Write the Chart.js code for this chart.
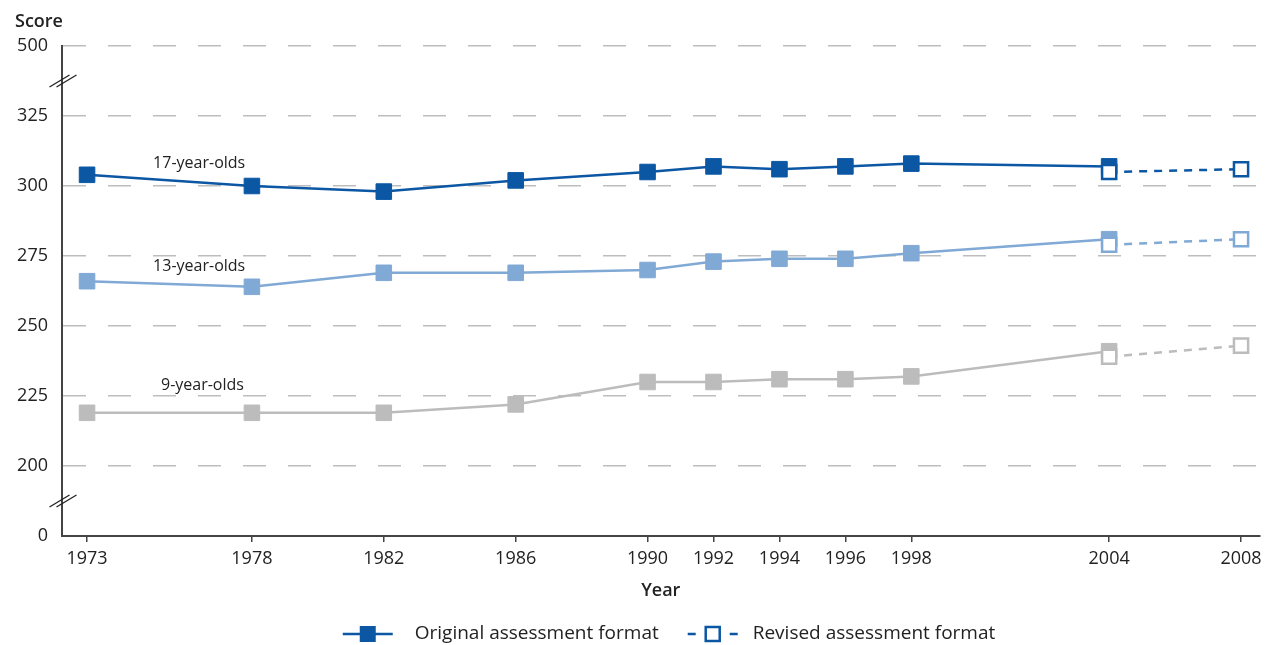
<!DOCTYPE html>
<html>
<head>
<meta charset="utf-8">
<script src="https://cdn.jsdelivr.net/npm/chart.js@4.4.1/dist/chart.umd.min.js"></script>
<style>
html,body{margin:0;padding:0;background:#fff;}
#wrap{position:relative;width:1272px;height:645px;}
</style>
</head>
<body>
<div id="wrap"><canvas id="chart"></canvas></div>
<script>
// ================= DATOS =================
const years = [1973, 1978, 1982, 1986, 1990, 1992, 1994, 1996, 1998, 2004];
const revisedYears = [2004, 2008];

const age17 = [304, 300, 298, 302, 305, 307, 306, 307, 308, 307];
const age13 = [266, 264, 269, 269, 270, 273, 274, 274, 276, 281];
const age9  = [219, 219, 219, 222, 230, 230, 231, 231, 232, 241];

const age17Revised = [305, 306];
const age13Revised = [279, 281];
const age9Revised  = [239, 243];

const xTicks = [1973, 1978, 1982, 1986, 1990, 1992, 1994, 1996, 1998, 2004, 2008];
// eje Y partido: 175 -> "0" y 350 -> "500"
const yTickValues = [175, 200, 225, 250, 275, 300, 325, 350];
const yTickLabels = ["0", "200", "225", "250", "275", "300", "325", "500"];

const seriesNames = ["17-year-olds", "13-year-olds", "9-year-olds"];
const legendNames = ["Original assessment format", "Revised assessment format"];

// ================= ESTILO =================
const FONT = "'Open Sans', 'DejaVu Sans', sans-serif";
const TEXT = "#222";
const AXIS = "#444";
const GRID = "#bdbdbd";
const colors = ["#0b57a4", "#80a9d5", "#bcbcbc"];

// anclas de las etiquetas de serie (en unidades de datos)
const labelAnchors = [
  {x: 1976.4, y: 308.2},
  {x: 1976.4, y: 271.1},
  {x: 1976.5, y: 228.9}
];

function pts(xs, ys){ return xs.map((x,i)=>({x, y: ys[i]})); }

function original(data, color){
  return {
    data, order: 1,
    borderColor: color, borderWidth: 2.5,
    pointStyle: "rect", pointRadius: 11, pointHoverRadius: 11,
    pointBackgroundColor: color, pointBorderColor: color, pointBorderWidth: 1
  };
}
function revised(data, color){
  return {
    data, order: 0,
    borderColor: color, borderWidth: 2.5, borderDash: [8, 7],
    pointStyle: "rect", pointRadius: 10, pointHoverRadius: 10,
    pointBackgroundColor: "#fff", pointBorderColor: color, pointBorderWidth: 2.5
  };
}

const datasets = [
  original(pts(years, age17), colors[0]),
  original(pts(years, age13), colors[1]),
  original(pts(years, age9), colors[2]),
  revised(pts(revisedYears, age17Revised), colors[0]),
  revised(pts(revisedYears, age13Revised), colors[1]),
  revised(pts(revisedYears, age9Revised), colors[2])
];

// ================= DECORACION =================
const decor = {
  id: "decor",
  afterDraw(chart){
    const {ctx, chartArea, scales} = chart;
    const x = scales.x, y = scales.y;
    ctx.save();

    // titulo eje Y
    ctx.fillStyle = TEXT;
    ctx.font = "600 18px " + FONT;
    ctx.textAlign = "left";
    ctx.textBaseline = "middle";
    ctx.fillText("Score", 15, 22);

    // marcas de corte
    ctx.strokeStyle = "#222";
    ctx.lineWidth = 1.3;
    [337.5, 187.5].forEach(v => {
      const py = y.getPixelForValue(v);
      const px = chartArea.left + 1;
      [-3.5, 3.5].forEach(d => {
        ctx.beginPath();
        ctx.moveTo(px - 10 + d, py + 6);
        ctx.lineTo(px + 10 + d, py - 6);
        ctx.stroke();
      });
    });

    // etiquetas de series
    ctx.font = "16px " + FONT;
    ctx.textAlign = "center";
    seriesNames.forEach((n, i) => {
      ctx.fillText(n, x.getPixelForValue(labelAnchors[i].x), y.getPixelForValue(labelAnchors[i].y));
    });

    // leyenda
    ctx.font = "19px " + FONT;
    const iconW = 50, itemGap = 29;
    const w0 = ctx.measureText(legendNames[0]).width;
    const w1 = ctx.measureText(legendNames[1]).width;
    const total = iconW + 22 + w0 + itemGap + iconW + 15 + w1;
    let lx = 669 - total / 2;
    const ly = 634;
    const c = colors[0];
    ctx.textAlign = "left";

    // original
    ctx.strokeStyle = c; ctx.lineWidth = 2.5;
    ctx.beginPath(); ctx.moveTo(lx, ly); ctx.lineTo(lx + iconW, ly); ctx.stroke();
    ctx.fillStyle = c;
    ctx.fillRect(lx + iconW/2 - 8, ly - 8, 16, 16);
    ctx.fillStyle = TEXT;
    ctx.fillText(legendNames[0], lx + iconW + 22, ly);
    lx += iconW + 22 + w0 + itemGap;

    // revisado
    ctx.strokeStyle = c;
    ctx.beginPath();
    ctx.moveTo(lx, ly); ctx.lineTo(lx + 8, ly);
    ctx.moveTo(lx + iconW - 8, ly); ctx.lineTo(lx + iconW, ly);
    ctx.stroke();
    ctx.fillStyle = "#fff";
    ctx.fillRect(lx + iconW/2 - 7, ly - 7, 14, 14);
    ctx.strokeRect(lx + iconW/2 - 7, ly - 7, 14, 14);
    ctx.fillStyle = TEXT;
    ctx.fillText(legendNames[1], lx + iconW + 15, ly);

    ctx.restore();
  }
};

// ================= GRAFICA =================
new Chart(document.getElementById("chart"), {
  type: "line",
  data: {datasets},
  options: {
    responsive: true,
    maintainAspectRatio: false,
    animation: false,
    layout: {padding: {top: 46, right: 0, bottom: 30, left: 0}},
    plugins: {legend: {display: false}, tooltip: {enabled: false}},
    events: [],
    scales: {
      x: {
        type: "linear",
        min: 1972.24, max: 2008.56,
        afterBuildTicks: s => { s.ticks = xTicks.map(v => ({value: v})); },
        afterFit: s => { s.height = 79; s.paddingLeft = 0; s.paddingRight = 0; },
        grid: {drawOnChartArea: false, drawTicks: true, tickLength: 6, color: AXIS, lineWidth: 1.5},
        border: {display: true, color: AXIS, width: 2},
        ticks: {color: TEXT, font: {family: FONT, size: 18}, padding: 6, maxRotation: 0, autoSkip: false,
                callback: v => String(v)},
        title: {display: true, text: "Year", color: TEXT, font: {family: FONT, size: 18, weight: "600"},
                padding: {top: 4, bottom: 13}}
      },
      y: {
        type: "linear",
        min: 175, max: 350,
        afterBuildTicks: s => { s.ticks = yTickValues.map(v => ({value: v})); },
        afterFit: s => { s.width = 62; },
        grid: {
          drawTicks: false,
          color: ctx => ctx.tick && ctx.tick.value === 175 ? "rgba(0,0,0,0)" : GRID,
          lineWidth: 1.5
        },
        border: {display: true, color: AXIS, width: 2, dash: [23, 22]},
        ticks: {color: TEXT, font: {family: FONT, size: 18}, padding: 14,
                callback: (v) => yTickLabels[yTickValues.indexOf(v)]}
      }
    }
  },
  plugins: [decor]
});
</script>
</body>
</html>
